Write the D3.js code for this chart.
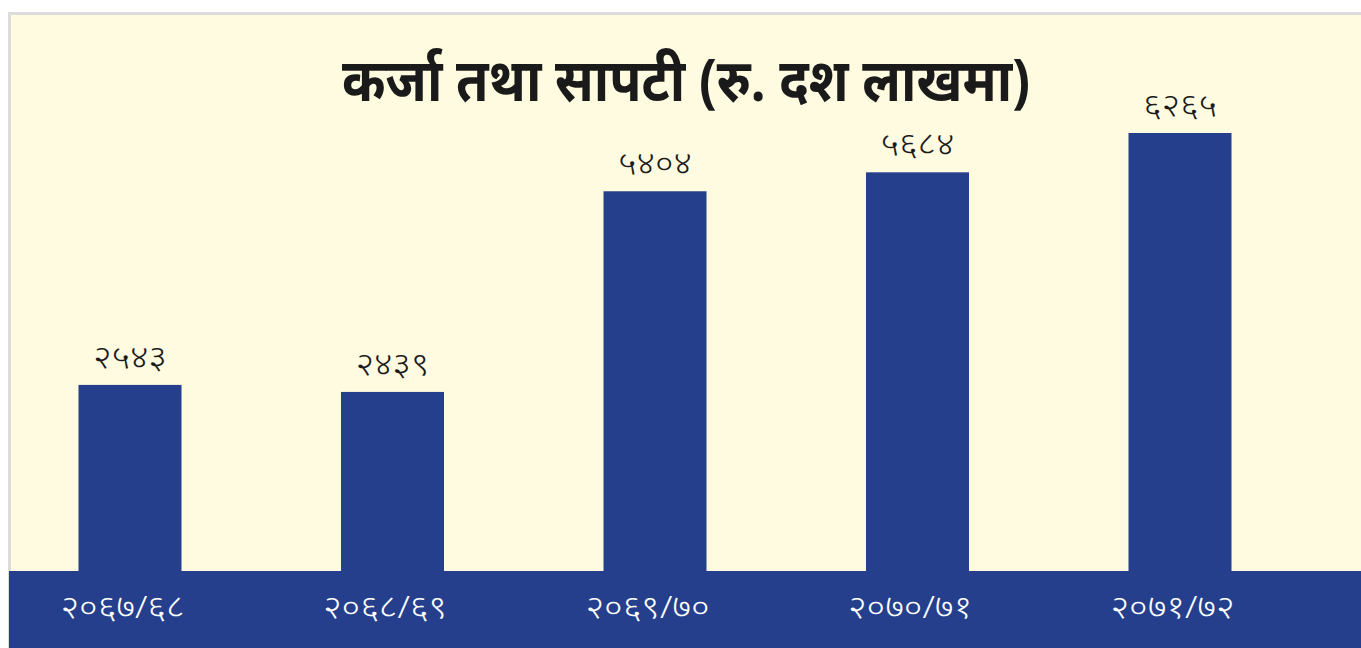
<!DOCTYPE html>
<html>
<head>
<meta charset="utf-8">
<script src="https://cdn.jsdelivr.net/npm/d3@7"></script>
<style>
  body { margin: 0; background: #ffffff; }
</style>
</head>
<body>
<div id="chart"></div>
<script>
// fiscal years (Nepali numerals)
const years = ["२०६७/६८", "२०६८/६९", "२०६९/७०", "२०७०/७१", "२०७१/७२"];
// loans and advances, Rs. in ten lakhs
const loans = [2543, 2439, 5404, 5684, 6265];
const loanLabels = ["२५४३", "२४३९", "५४०४", "५६८४", "६२६५"];
const title = "कर्जा तथा सापटी (रु. दश लाखमा)";

const width = 1361, height = 648;
const bandTop = 571;
const blue = "#253f8d";

const svg = d3.select("#chart")
  .append("svg")
    .attr("width", width)
    .attr("height", height);

// light grey frame and cream panel
svg.append("rect")
  .attr("x", 8).attr("y", 12)
  .attr("width", width - 8).attr("height", height - 12)
  .attr("fill", "#dcdcdc");
svg.append("rect")
  .attr("x", 11).attr("y", 15)
  .attr("width", width - 11).attr("height", bandTop - 15)
  .attr("fill", "#fffbe0");

// scales
const x = d3.scalePoint()
  .domain(years)
  .range([130, 1180]);
const y = d3.scaleLinear()
  .domain([0, d3.max(loans)])
  .range([557, 133]);
const barW = 103;

// bars
svg.append("g")
  .selectAll("rect")
  .data(loans)
  .join("rect")
    .attr("x", (d, i) => x(years[i]) - barW / 2)
    .attr("y", d => y(d))
    .attr("width", barW)
    .attr("height", d => bandTop - y(d))
    .attr("fill", blue);

// value labels
svg.append("g")
  .selectAll("text")
  .data(loans)
  .join("text")
    .attr("x", (d, i) => x(years[i]))
    .attr("y", d => y(d) - 17)
    .attr("text-anchor", "middle")
    .attr("textLength", 74)
    .attr("lengthAdjust", "spacingAndGlyphs")
    .style("font-family", "'Noto Sans', 'DejaVu Sans', sans-serif")
    .style("font-size", "32px")
    .style("font-weight", 300)
    .style("fill", "#1a1a1a")
    .text((d, i) => loanLabels[i]);

// blue band with the year labels
svg.append("rect")
  .attr("x", 9).attr("y", bandTop)
  .attr("width", width - 9).attr("height", height - bandTop)
  .attr("fill", blue);

svg.append("g")
  .attr("transform", `translate(0, ${bandTop})`)
  .call(d3.axisBottom(x).tickSize(0))
  .call(g => g.select(".domain").remove())
  .selectAll("text")
    .attr("dy", 0)
    .attr("y", 47)
    .attr("x", -8)
    .attr("textLength", 124)
    .attr("lengthAdjust", "spacingAndGlyphs")
    .style("font-family", "'Noto Sans', 'DejaVu Sans', sans-serif")
    .style("font-size", "32px")
    .style("font-weight", 300)
    .style("fill", "#ffffff");

// title
svg.append("text")
  .attr("x", 686)
  .attr("y", 101)
  .attr("text-anchor", "middle")
  .attr("textLength", 688)
  .attr("lengthAdjust", "spacingAndGlyphs")
  .style("font-family", "'Noto Sans', 'DejaVu Sans', sans-serif")
  .style("font-size", "60px")
  .style("font-weight", "bold")
  .style("fill", "#1a1a1a")
  .text(title);
</script>
</body>
</html>
